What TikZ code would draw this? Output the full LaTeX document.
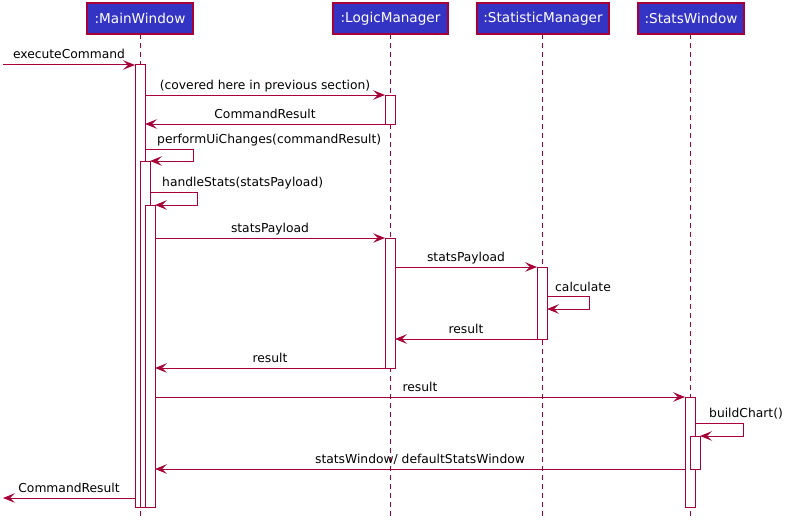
\documentclass[tikz,border=0pt]{standalone}
\usepackage{fontspec}
\setmainfont{DejaVu Sans}
\usetikzlibrary{arrows.meta}
\definecolor{crim}{RGB}{168,0,54}
\definecolor{pblue}{RGB}{52,52,196}
\tikzset{
 part/.style={draw=crim, fill=pblue, text=white, line width=1.2pt, minimum height=31pt, inner sep=0pt, font=\fontsize{13.6}{15}\selectfont},
 life/.style={draw=crim, line width=1pt, dash pattern=on 5pt off 4pt},
 actbar/.style={draw=crim, fill=white, line width=1pt},
 msg/.style={draw=crim, line width=1pt, -{Stealth[length=12pt,width=9.5pt,inset=5pt]}},
 lbl/.style={font=\fontsize{12.3}{14}\selectfont, anchor=base, inner sep=0pt, text=black, yshift=6pt},
 slbl/.style={font=\fontsize{12.3}{14}\selectfont, anchor=base west, inner sep=0pt, text=black},
}
\begin{document}
\begin{tikzpicture}[x=1pt,y=-1pt]
\useasboundingbox (0,0) rectangle (792,527);
% lifelines
\draw[life] (140,34) -- (140,517);
\draw[life] (390,34) -- (390,517);
\draw[life] (542,34) -- (542,517);
\draw[life] (690,34) -- (690,517);
% participants
\node[part, minimum width=106pt] (mw) at (140,18.5) {:MainWindow};
\node[part, minimum width=115pt] (lm) at (390.5,18.5) {:LogicManager};
\node[part, minimum width=132pt] (sm) at (543,18.5) {:StatisticManager};
\node[part, minimum width=106pt] (sw) at (691,18.5) {:StatsWindow};
% activation bars
\draw[actbar] (135,65) rectangle (145,507);
\draw[actbar] (140,161) rectangle (150,507);
\draw[actbar] (145,205) rectangle (155,507);
\draw[actbar] (385,95) rectangle (395,124);
\draw[actbar] (385,238) rectangle (395,368);
\draw[actbar] (537,267) rectangle (547,339);
\draw[actbar] (685,397) rectangle (695,507);
\draw[actbar] (690,436) rectangle (700,469);
% coordinates
\coordinate (in1) at (3,65);   \coordinate (mwA) at (135,65);
\coordinate (mwB) at (145,95); \coordinate (lmA) at (385,95);
\coordinate (lmB) at (385,124);\coordinate (mwC) at (145,124);
\coordinate (mwD) at (145,149);\coordinate (mwE) at (150,161);
\coordinate (mwF) at (150,192);\coordinate (mwG) at (155,205);
\coordinate (mwH) at (155,238);\coordinate (lmC) at (385,238);
\coordinate (lmD) at (395,267);\coordinate (smA) at (537,267);
\coordinate (smB) at (547,296);\coordinate (smC) at (547,309);
\coordinate (smD) at (537,339);\coordinate (lmE) at (395,339);
\coordinate (lmF) at (385,368);\coordinate (mwI) at (155,368);
\coordinate (mwJ) at (155,397);\coordinate (swA) at (685,397);
\coordinate (swB) at (695,423);\coordinate (swC) at (700,436);
\coordinate (swD) at (685,469);\coordinate (mwK) at (155,469);
\coordinate (mwL) at (135,498);\coordinate (out1) at (3,498);
% messages
\draw[msg] (in1) -- (mwA) node[lbl, midway] {executeCommand};
\draw[msg] (mwB) -- (lmA) node[lbl, midway] {(covered here in previous section)};
\draw[msg] (lmB) -- (mwC) node[lbl, midway] {CommandResult};
\draw[msg] (mwD) -- ++(48,0) |- (mwE);
\node[slbl] (l4) at (157,143) {performUiChanges(commandResult)};
\draw[msg] (mwF) -- ++(47,0) |- (mwG);
\node[slbl] (l5) at (162,186) {handleStats(statsPayload)};
\draw[msg] (mwH) -- (lmC) node[lbl, midway] {statsPayload};
\draw[msg] (lmD) -- (smA) node[lbl, midway] {statsPayload};
\draw[msg] (smB) -- ++(42,0) |- (smC);
\node[slbl] (l8) at (555,291) {calculate};
\draw[msg] (smD) -- (lmE) node[lbl, midway] {result};
\draw[msg] (lmF) -- (mwI) node[lbl, midway] {result};
\draw[msg] (mwJ) -- (swA) node[lbl, midway] {result};
\draw[msg] (swB) -- ++(48,0) |- (swC);
\node[slbl] (l12) at (709,417) {buildChart()};
\draw[msg] (swD) -- (mwK) node[lbl, midway] {statsWindow/ defaultStatsWindow};
\draw[msg] (mwL) -- (out1) node[lbl, midway] {CommandResult};
\end{tikzpicture}
\end{document}
